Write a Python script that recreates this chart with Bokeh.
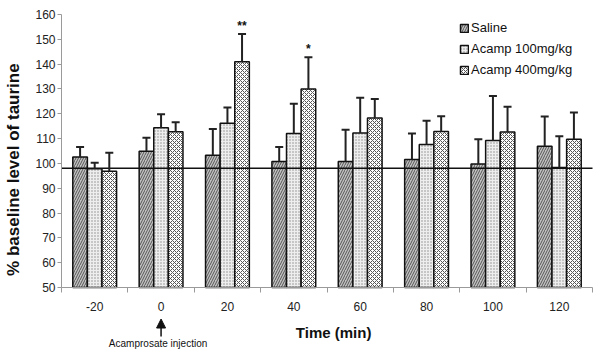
import math
from bokeh.plotting import figure
from bokeh.models import (ColumnDataSource, Range1d, FixedTicker, Whisker, TeeHead,
                          Legend, LegendItem, Label, Arrow, NormalHead, LinearAxis)
from bokeh.core.properties import value
from bokeh.embed import file_html
from bokeh.resources import INLINE

# ---- data ----
times = ["-20", "0", "20", "40", "60", "80", "100", "120"]
saline = [102.6, 104.9, 103.3, 100.8, 100.8, 101.6, 99.8, 106.9]
saline_sem = [4.0, 5.4, 10.6, 5.8, 12.8, 10.5, 9.9, 12.0]
acamp100 = [97.8, 114.4, 116.2, 112.1, 112.3, 107.6, 109.2, 98.4]
acamp100_sem = [2.5, 5.4, 6.3, 11.9, 14.2, 9.6, 18.0, 12.5]
acamp400 = [96.8, 112.8, 141.0, 130.0, 118.3, 112.9, 112.7, 109.7]
acamp400_sem = [7.5, 3.8, 11.1, 12.8, 7.7, 6.1, 10.1, 10.8]
acamp400_sig = ["", "", "**", "*", "", "", "", ""]
baseline = 98
series_names = ["Saline", "Acamp 100mg/kg", "Acamp 400mg/kg"]
y_ticks = [50, 60, 70, 80, 90, 100, 110, 120, 130, 140, 150, 160]
y_min, y_max = 50, 160

FONT = "Liberation Sans"
idx = list(range(len(times)))
x_lo, x_hi = -0.5, len(times) - 0.5
bar_w = 0.22
offsets = [-bar_w, 0.0, bar_w]

# whole canvas is the frame; axes are placed at fixed data locations
W, H = 595, 354
frame_left, frame_right, frame_top, frame_bottom = 61, 592, 14, 287
xs_per_px = (x_hi - x_lo) / (frame_right - frame_left)
ys_per_px = (y_max - y_min) / (frame_bottom - frame_top)
xr = Range1d(x_lo - frame_left * xs_per_px, x_hi + (W - frame_right) * xs_per_px)
yr = Range1d(y_min - (H - frame_bottom) * ys_per_px, y_max + frame_top * ys_per_px)

p = figure(width=W, height=H, output_backend="svg", toolbar_location=None,
           x_range=xr, y_range=yr, x_axis_location=None, y_axis_location=None,
           min_border=0)
p.outline_line_color = None
p.xgrid.grid_line_color = None
p.ygrid.grid_line_color = None
p.background_fill_color = "white"
p.border_fill_color = "white"

styles = [
    dict(fill_color="#c2c2c2", hatch_pattern="right_diagonal_line", hatch_color="#555555",
         hatch_scale=5, hatch_weight=1),
    dict(fill_color="#eeeeee", hatch_pattern="dot", hatch_color="#888888",
         hatch_scale=3, hatch_weight=1),
    dict(fill_color="#ffffff", hatch_pattern="diagonal_cross", hatch_color="#555555",
         hatch_scale=4, hatch_weight=1),
]

means = [saline, acamp100, acamp400]
sems = [saline_sem, acamp100_sem, acamp400_sem]
renderers = []
for k in range(3):
    xs = [i + offsets[k] for i in idx]
    tops = [m + s for m, s in zip(means[k], sems[k])]
    src = ColumnDataSource(dict(x=xs, top=means[k], upper=tops))
    r = p.vbar(x="x", top="top", bottom=y_min, width=bar_w, source=src,
               line_color="#111111", line_width=1.5, **styles[k])
    renderers.append(r)
    w = Whisker(source=src, base="x", lower="top", upper="upper", dimension="height",
                line_color="#222222", line_width=2, level="annotation",
                upper_head=TeeHead(size=8, line_color="#222222", line_width=2),
                lower_head=None)
    p.add_layout(w)

# significance stars
star_src = ColumnDataSource(dict(
    x=[i + offsets[2] for i in idx],
    y=[m + s for m, s in zip(acamp400, acamp400_sem)],
    t=acamp400_sig))
p.text(x="x", y="y", text="t", source=star_src, text_align="center",
       text_baseline="bottom", y_offset=-1, text_font=value(FONT),
       text_font_size="12px", text_color="#111111", text_font_style="bold")

# baseline line across the plotting area
p.segment(x0=[x_lo], x1=[x_hi], y0=[baseline], y1=[baseline],
          line_color="#111111", line_width=1.5)

# axes
yaxis = LinearAxis(fixed_location=x_lo, bounds=(y_min, y_max))
yaxis.ticker = FixedTicker(ticks=y_ticks)
yaxis.axis_line_color = "#9a9a9a"
yaxis.major_tick_line_color = "#9a9a9a"
yaxis.major_tick_out = 4
yaxis.major_tick_in = 0
yaxis.minor_tick_line_color = None
yaxis.major_label_standoff = 2
yaxis.major_label_text_font = FONT
yaxis.major_label_text_font_size = "12px"
yaxis.major_label_text_color = "#222222"
p.add_layout(yaxis, "left")

xaxis = LinearAxis(fixed_location=y_min, bounds=(x_lo, x_hi))
xaxis.ticker = FixedTicker(ticks=idx, minor_ticks=[i - 0.5 for i in idx] + [x_hi])
xaxis.major_label_overrides = {i: t for i, t in zip(idx, times)}
xaxis.axis_line_color = "#9a9a9a"
xaxis.major_tick_line_color = None
xaxis.major_tick_out = 0
xaxis.major_tick_in = 0
xaxis.minor_tick_line_color = "#9a9a9a"
xaxis.minor_tick_out = 5
xaxis.minor_tick_in = 0
xaxis.major_label_standoff = 9
xaxis.major_label_text_font = FONT
xaxis.major_label_text_font_size = "12px"
xaxis.major_label_text_color = "#222222"
p.add_layout(xaxis, "below")

# axis titles as labels
p.add_layout(Label(x=-1.22, y=97.5, text="% baseline level of taurine", angle=math.pi / 2,
                   text_align="center", text_baseline="middle", text_font=FONT,
                   text_font_size="17px", text_font_style="bold", text_color="#111111"))
p.add_layout(Label(x=3.6, y=31.9, text="Time (min)", text_align="center",
                   text_baseline="middle", text_font=FONT, text_font_size="15px",
                   text_font_style="bold", text_color="#111111"))

# injection marker
p.add_layout(Arrow(x_start=1, y_start=30.3, x_end=1, y_end=37.3,
                   line_color="#111111", line_width=1.5,
                   end=NormalHead(size=9, fill_color="#111111", line_color="#111111")))
p.add_layout(Label(x=1, y=27.4, x_offset=-3, text="Acamprosate injection", text_align="center",
                   text_baseline="middle", text_font=FONT, text_font_size="10px",
                   text_color="#111111"))

legend = Legend(items=[LegendItem(label=n, renderers=[r]) for n, r in zip(series_names, renderers)],
                location=(459, 277), padding=0, margin=0, spacing=6,
                glyph_width=10, glyph_height=10, label_height=15, label_standoff=2,
                border_line_color=None, background_fill_alpha=0,
                label_text_font=FONT, label_text_font_size="13px", label_text_color="#111111")
p.add_layout(legend)

open("out.html", "w").write(file_html(p, INLINE))
